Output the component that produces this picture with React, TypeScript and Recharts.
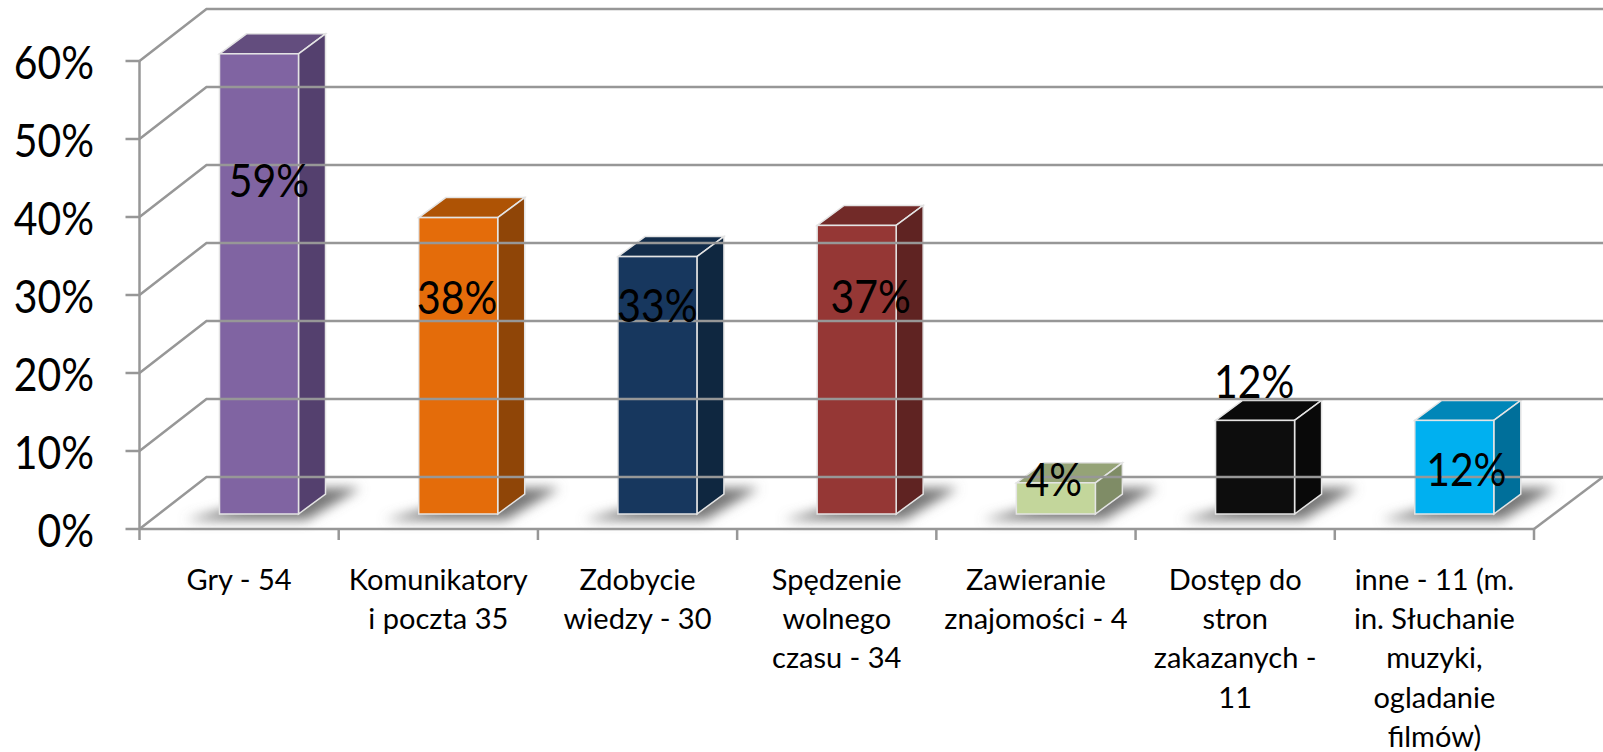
import { Bar, BarChart, LabelList, XAxis, YAxis } from "recharts"

const categories = [
    "Gry - 54",
    "Komunikatory\ni poczta 35",
    "Zdobycie\nwiedzy - 30",
    "Spędzenie\nwolnego\nczasu - 34",
    "Zawieranie\nznajomości - 4",
    "Dostęp do\nstron\nzakazanych -\n11",
    "inne - 11 (m.\nin. Słuchanie\nmuzyki,\nogladanie\nfilmów)",
]
const values = [59, 38, 33, 37, 4, 12, 12]
const yTicks = [0, 10, 20, 30, 40, 50, 60]

const frontColors = ["#8064A2", "#E46C0A", "#17375E", "#953735", "#C3D69B", "#0D0D0D", "#00B0F0"]
const topColors = ["#634D7E", "#AE5305", "#122C4A", "#722A28", "#95A377", "#0A0A0A", "#0086B8"]
const sideColors = ["#54406E", "#8F4507", "#0F2740", "#5F2322", "#7F8C66", "#090909", "#006F9A"]

// hand placed labels in the original, offset from the middle of the bar face
const labelNudge = [[10, -105], [-1, -70], [0, -81], [14, -75], [-2, -20], [-1, -87], [12, 1]]

const W = 1603
const H = 752
const LEFT = 139.5
const RIGHT = 1534
const TOP = 61
const BOTTOM = 529
const BAND = (RIGHT - LEFT) / categories.length
const GRID = "#979797"
const GRID_W = 2.5
const WALL_DX = 67
const WALL_DY = -52
const BAR_DX = 20
const BAR_DY = -15
const DEPTH_X = 27
const DEPTH_Y = -20
const FONT = "Lato, sans-serif"
const BIG_SIZE = 46
const BIG_SQUEEZE = 0.89 // Lato runs wider than the face in the picture
const BIG_BASELINE = 18

const YTick = ({ y, payload }: any) => (
    <g>
        <polyline
            points={`${LEFT},${y} ${LEFT + WALL_DX},${y + WALL_DY} ${W},${y + WALL_DY}`}
            fill="none"
            stroke={GRID}
            strokeWidth={GRID_W}
        />
        {payload.value === 0 && (
            <line x1={RIGHT} y1={y} x2={W} y2={y + WALL_DY} stroke={GRID} strokeWidth={GRID_W} />
        )}
        <text
            transform={`translate(94 ${y + BIG_BASELINE}) scale(${BIG_SQUEEZE} 1)`}
            textAnchor="end"
            fontFamily={FONT}
            fontSize={BIG_SIZE}
            fill="#000"
        >
            {payload.value}%
        </text>
    </g>
)

const XTick = ({ x, payload, index }: any) => {
    const lines = String(payload.value).split("\n")
    return (
        <g>
            <line x1={x - BAND / 2} y1={BOTTOM} x2={x - BAND / 2} y2={BOTTOM + 11} stroke={GRID} strokeWidth={GRID_W} />
            {index === categories.length - 1 && (
                <line x1={x + BAND / 2} y1={BOTTOM} x2={x + BAND / 2} y2={BOTTOM + 11} stroke={GRID} strokeWidth={GRID_W} />
            )}
            {lines.map((line, i) => (
                <text
                    key={i}
                    x={x}
                    y={590 + i * 39.2}
                    textAnchor="middle"
                    fontFamily={FONT}
                    fontSize={29}
                    fill="#000"
                >
                    {line}
                </text>
            ))}
        </g>
    )
}

const Bar3D = ({ x, y, width, height, index }: any) => {
    const l = x + BAR_DX
    const r = l + width
    const t = y + BAR_DY
    const b = t + height
    const outline = `${l},${t} ${l + DEPTH_X},${t + DEPTH_Y} ${r + DEPTH_X},${t + DEPTH_Y} ${r + DEPTH_X},${b + DEPTH_Y} ${r},${b} ${l},${b}`
    const edge = "#E4E4E4"
    return (
        <g>
            <polygon points={outline} fill="#fff" stroke="#fff" strokeWidth={6} />
            <polygon
                points={`${l - 34},${b + 6} ${r + 8},${b + 6} ${r + 62},${b - 26} ${r + 10},${b - 26}`}
                fill="#777"
                filter="url(#floorShadow)"
            />
            <polygon
                points={`${l},${t} ${l + DEPTH_X},${t + DEPTH_Y} ${r + DEPTH_X},${t + DEPTH_Y} ${r},${t}`}
                fill={topColors[index]}
                stroke={edge}
                strokeWidth={1.5}
            />
            <polygon
                points={`${r},${t} ${r + DEPTH_X},${t + DEPTH_Y} ${r + DEPTH_X},${b + DEPTH_Y} ${r},${b}`}
                fill={sideColors[index]}
                stroke={edge}
                strokeWidth={1.5}
            />
            <rect x={l} y={t} width={width} height={height} fill={frontColors[index]} stroke={edge} strokeWidth={1.5} />
        </g>
    )
}

const BarLabel = ({ x, y, width, height, value, index }: any) => (
    <text
        transform={`translate(${x + BAR_DX + width / 2 + labelNudge[index][0]} ${y + BAR_DY + height / 2 + labelNudge[index][1] + BIG_BASELINE}) scale(${BIG_SQUEEZE} 1)`}
        textAnchor="middle"
        fontFamily={FONT}
        fontSize={BIG_SIZE}
        fill="#000"
    >
        {value}%
    </text>
)

export default function App() {
    const data = categories.map((name, i) => ({ name, value: values[i] }))

    return (
        <div style={{ position: "absolute", left: 0, top: 0, width: W, height: H, overflow: "hidden", background: "#fff" }}>
            <BarChart
                width={W}
                height={H}
                data={data}
                margin={{ top: TOP, right: W - RIGHT, bottom: 0, left: 0 }}
                barSize={79}
            >
                <defs>
                    <filter id="floorShadow" x="-40%" y="-100%" width="180%" height="300%">
                        <feGaussianBlur stdDeviation="6" />
                    </filter>
                </defs>
                <YAxis
                    width={LEFT}
                    domain={[0, 60]}
                    ticks={yTicks}
                    tick={<YTick />}
                    tickSize={14}
                    tickLine={{ stroke: GRID, strokeWidth: GRID_W }}
                    axisLine={{ stroke: GRID, strokeWidth: GRID_W }}
                />
                <XAxis
                    dataKey="name"
                    height={H - BOTTOM}
                    interval={0}
                    tick={<XTick />}
                    tickLine={false}
                    axisLine={{ stroke: GRID, strokeWidth: GRID_W }}
                />
                <Bar dataKey="value" shape={<Bar3D />} isAnimationActive={false}>
                    <LabelList dataKey="value" content={<BarLabel />} />
                </Bar>
            </BarChart>
        </div>
    )
}
